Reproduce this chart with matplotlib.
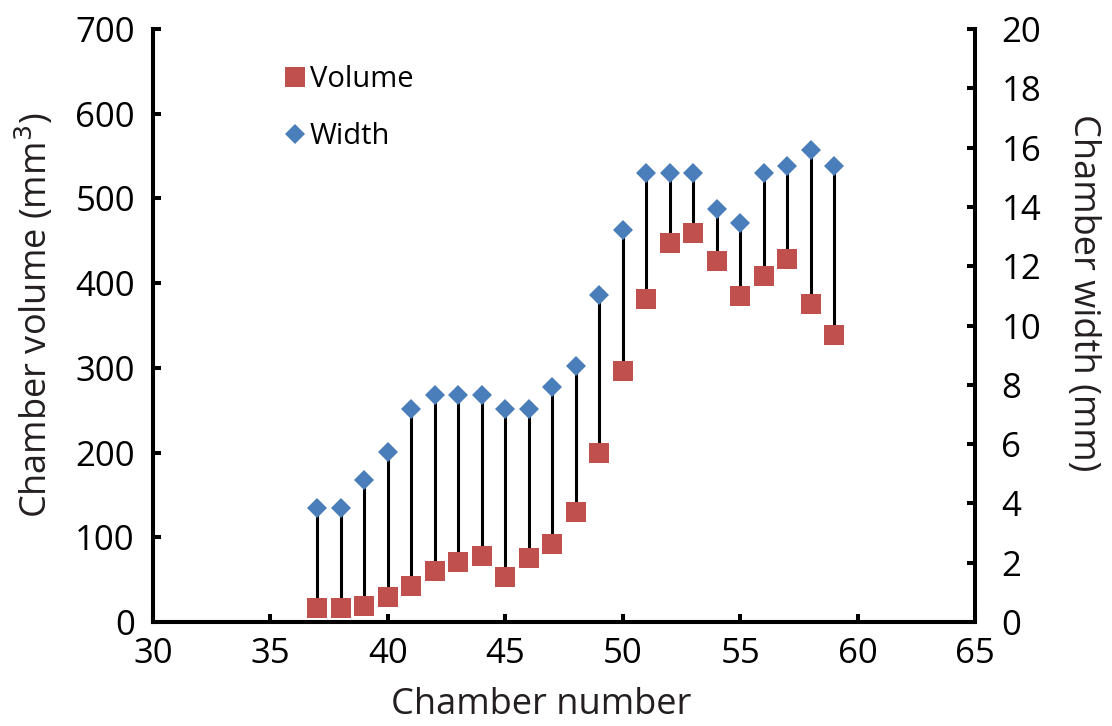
import matplotlib.pyplot as plt

chamber = [37, 38, 39, 40, 41, 42, 43, 44, 45, 46, 47, 48,
           49, 50, 51, 52, 53, 54, 55, 56, 57, 58, 59]
volume = [16, 17, 19, 30, 43, 60, 71, 78, 53, 75, 92, 130,
          199, 296, 381, 447, 459, 426, 385, 409, 429, 375, 339]
width = [3.83, 3.83, 4.79, 5.74, 7.19, 7.67, 7.67, 7.67, 7.19, 7.19, 7.92, 8.65,
         11.04, 13.22, 15.14, 15.14, 15.14, 13.94, 13.45, 15.14, 15.37, 15.92, 15.37]

plt.rcParams['font.family'] = ['Open Sans', 'DejaVu Sans']

fig = plt.figure(figsize=(11.12, 7.26), dpi=100)
ax = fig.add_axes([0.1376, 0.1433, 0.7392, 0.8167])
ax2 = ax.twinx()

vmax = 700
wmax = 20

# linee verticali tra volume e larghezza (in unita dell'asse sinistro)
ax.vlines(chamber, volume, [w * vmax / wmax for w in width],
          color='black', linewidth=2.2, zorder=1)
ax.plot(chamber, volume, 's', color='#C0504D', markersize=14.5,
        markeredgewidth=0, zorder=3, label='Volume')
ax2.plot(chamber, width, 'D', color='#4A7EBB', markersize=10.5,
         markeredgewidth=0, zorder=3, label='Width')

ax.set_xlim(30, 65)
ax.set_ylim(0, vmax)
ax2.set_ylim(0, wmax)
ax.set_xticks(range(30, 66, 5))
ax.set_yticks(range(0, 701, 100))
ax2.set_yticks(range(0, 21, 2))

for a in (ax, ax2):
    a.spines['top'].set_visible(False)
    for s in a.spines.values():
        s.set_linewidth(2.9)
ax.spines['right'].set_visible(False)

ax.tick_params(axis='both', direction='in', length=6, width=2.9,
               labelsize=25, colors='black')
ax.tick_params(axis='x', pad=11)
ax.tick_params(axis='y', pad=13)
ax2.tick_params(axis='y', direction='in', length=6, width=2.9,
                labelsize=25, pad=19)

lab_color = '#231f20'
ax.set_xlabel('Chamber number', fontsize=26, color=lab_color, labelpad=11)
ax.set_ylabel('Chamber volume (mm$^3$)', fontsize=26, color=lab_color, labelpad=14)
ax2.set_ylabel('Chamber width (mm)', fontsize=26, color=lab_color,
               rotation=-90, labelpad=43)
ax.xaxis.label.set_x(0.472)
ax.yaxis.label.set_y(0.518)
ax2.yaxis.label.set_y(0.556)

h1, l1 = ax.get_legend_handles_labels()
h2, l2 = ax2.get_legend_handles_labels()
ax2.legend(h1 + h2, l1 + l2, loc='upper left', bbox_to_anchor=(0.12, 0.983),
           frameon=False, fontsize=21, handletextpad=-0.1, labelspacing=0.95,
           handlelength=1.2)

fig.savefig('out.png', dpi=100)
